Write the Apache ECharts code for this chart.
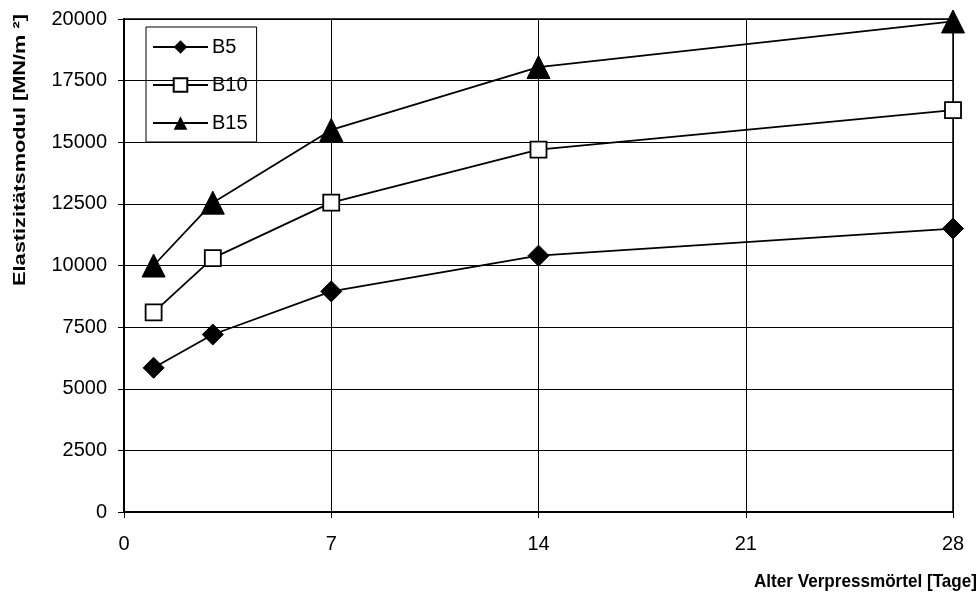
<!DOCTYPE html>
<html>
<head>
<meta charset="utf-8">
<script src="https://cdn.jsdelivr.net/npm/echarts@6/dist/echarts.min.js"></script>
<style>
  html, body { margin: 0; padding: 0; background: #fff; }
  #chart { width: 980px; height: 599px; }
</style>
</head>
<body>
<div id="chart"></div>
<script>
// Alter in Tagen
const days = [1, 3, 7, 14, 28]
const b5 = [5850, 7200, 8950, 10400, 11500]
const b10 = [8100, 10300, 12550, 14700, 16300]
const b15 = [10000, 12550, 15500, 18050, 19900]
const seriesNames = ['B5', 'B10', 'B15']

const chart = echarts.init(document.getElementById('chart'))
const font = 'Liberation Sans, Arial, sans-serif'
const pairs = arr => days.map((d, i) => [d, arr[i]])

chart.setOption({
  animation: false,
  textStyle: { fontFamily: font },
  grid: { left: 124, right: 27, top: 19, bottom: 87, show: true, borderColor: '#000', borderWidth: 1.5 },
  legend: {
    data: seriesNames,
    orient: 'vertical',
    left: 146,
    top: 27,
    padding: [10, 9, 9, 6],
    itemGap: 18,
    itemWidth: 55,
    itemHeight: 17,
    borderColor: '#000',
    borderWidth: 1,
    textStyle: { fontSize: 20, color: '#000', fontFamily: font, padding: [0, 0, 0, -1] }
  },
  xAxis: {
    type: 'value',
    min: 0,
    max: 28,
    interval: 7,
    axisLine: { lineStyle: { color: '#000', width: 2 } },
    axisTick: { show: true, length: 6, lineStyle: { color: '#000' } },
    axisLabel: { fontSize: 20, color: '#000', margin: 22, fontFamily: font },
    splitLine: { lineStyle: { color: '#000', width: 1 } }
  },
  yAxis: {
    type: 'value',
    min: 0,
    max: 20000,
    interval: 2500,
    axisLine: { show: true, lineStyle: { color: '#000', width: 2 } },
    axisTick: { show: true, length: 6, lineStyle: { color: '#000' } },
    axisLabel: { fontSize: 20, color: '#000', margin: 17, fontFamily: font, formatter: v => String(v) },
    splitLine: { lineStyle: { color: '#000', width: 1 } }
  },
  graphic: [
    {
      // Achsentitel ist im Original gestreckt
      type: 'text',
      x: 20,
      y: 150,
      rotation: Math.PI / 2,
      scaleX: 1.28,
      style: {
        text: 'Elastizitätsmodul [MN/m ²]',
        font: 'bold 17px ' + font,
        fill: '#000',
        align: 'center',
        verticalAlign: 'middle'
      }
    },
    {
      type: 'text',
      x: 977,
      y: 582,
      scaleX: 0.9,
      style: {
        text: 'Alter Verpressmörtel [Tage]',
        font: 'bold 19px ' + font,
        fill: '#000',
        align: 'right',
        verticalAlign: 'middle'
      }
    }
  ],
  series: [
    {
      name: 'B5',
      type: 'line',
      data: pairs(b5),
      symbol: 'diamond',
      symbolSize: 21,
      lineStyle: { color: '#000', width: 1.8 },
      itemStyle: { color: '#000', borderColor: '#000' }
    },
    {
      name: 'B10',
      type: 'line',
      data: pairs(b10),
      symbol: 'rect',
      symbolSize: 16,
      lineStyle: { color: '#000', width: 1.8 },
      itemStyle: { color: '#fff', borderColor: '#000', borderWidth: 1.8 }
    },
    {
      name: 'B15',
      type: 'line',
      data: pairs(b15),
      symbol: 'triangle',
      symbolSize: 23,
      lineStyle: { color: '#000', width: 1.8 },
      itemStyle: { color: '#000', borderColor: '#000' }
    }
  ]
})
window.addEventListener('resize', () => chart.resize())
</script>
</body>
</html>
